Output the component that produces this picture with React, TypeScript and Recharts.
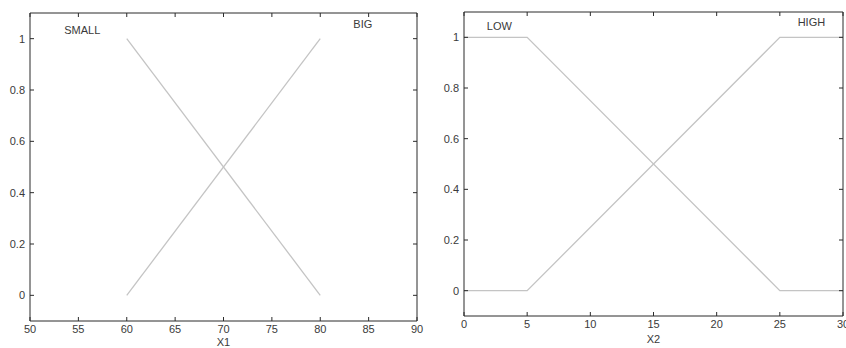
import React from 'react';
import { LineChart, Line, XAxis, YAxis, ReferenceDot } from 'recharts';

// ---- tick labels ----
const x1Ticks = [50, 55, 60, 65, 70, 75, 80, 85, 90];
const x2Ticks = [0, 5, 10, 15, 20, 25, 30];
const yTicks = [0, 0.2, 0.4, 0.6, 0.8, 1];

// ---- left panel series (X1) ----
const smallX = [60, 80];
const smallY = [1, 0];
const bigX = [60, 80];
const bigY = [0, 1];

// ---- right panel series (X2) ----
const lowX = [0, 5, 25, 30];
const lowY = [1, 1, 0, 0];
const highX = [0, 5, 25, 30];
const highY = [0, 0, 1, 1];

// ---- annotation texts (data coordinates) ----
const leftNames = ['SMALL', 'BIG'];
const leftNameX = [55.4, 84.4];
const leftNameY = [1.035, 1.055];
const rightNames = ['LOW', 'HIGH'];
const rightNameX = [2.8, 27.5];
const rightNameY = [1.045, 1.06];

const zip = (xs: number[], ys: number[]) => xs.map((x, i) => ({ x, y: ys[i] }));

const FONT = '"Liberation Sans", Arial, sans-serif';
const AX = '#2b2b2b';
const TXT = '#3a3a3a';
const LINE = '#c4c4c4';

const BottomTick = (p: any) => (
  <g>
    <line x1={p.x} x2={p.x} y1={p.y} y2={p.y - 4} stroke={AX} />
    <text x={p.x} y={p.y + 12} textAnchor="middle" fill={TXT} fontSize={11} fontFamily={FONT}>
      {p.payload.value}
    </text>
  </g>
);
const TopTick = (p: any) => (
  <line x1={p.x} x2={p.x} y1={p.y} y2={p.y + 4} stroke={AX} />
);
const LeftTick = (p: any) => (
  <g>
    <line x1={p.x} x2={p.x + 4} y1={p.y} y2={p.y} stroke={AX} />
    <text x={p.x - 5} y={p.y} dy="0.35em" textAnchor="end" fill={TXT} fontSize={11} fontFamily={FONT}>
      {String(p.payload.value)}
    </text>
  </g>
);
const RightTick = (p: any) => (
  <line x1={p.x} x2={p.x - 4} y1={p.y} y2={p.y} stroke={AX} />
);

type PanelProps = {
  width: number;
  height: number;
  margin: any;
  yAxisWidth: number;
  xAxisHeight: number;
  domain: [number, number];
  xTicks: number[];
  xLabel: string;
  labelOffset: number;
  series: { name: string; data: { x: number; y: number }[] }[];
  names: string[];
  nameX: number[];
  nameY: number[];
};

const Panel = (props: PanelProps) => (
  <LineChart width={props.width} height={props.height} margin={props.margin}>
    <XAxis
      xAxisId={0}
      type="number"
      dataKey="x"
      domain={props.domain}
      ticks={props.xTicks}
      interval={0}
      allowDataOverflow
      height={props.xAxisHeight}
      tickSize={0}
      tickMargin={0}
      tickLine={false}
      axisLine={{ stroke: AX }}
      tick={<BottomTick />}
      label={{ value: props.xLabel, position: 'insideBottom', offset: props.labelOffset, fill: TXT, fontSize: 11, fontFamily: FONT }}
    />
    <XAxis
      xAxisId="top"
      orientation="top"
      type="number"
      dataKey="x"
      domain={props.domain}
      ticks={props.xTicks}
      interval={0}
      allowDataOverflow
      height={1}
      tickSize={0}
      tickMargin={0}
      tickLine={false}
      axisLine={{ stroke: AX }}
      tick={<TopTick />}
    />
    <YAxis
      yAxisId={0}
      type="number"
      domain={[-0.1, 1.1]}
      ticks={yTicks}
      interval={0}
      allowDataOverflow
      width={props.yAxisWidth}
      tickSize={0}
      tickMargin={0}
      tickLine={false}
      axisLine={{ stroke: AX }}
      tick={<LeftTick />}
    />
    <YAxis
      yAxisId="right"
      orientation="right"
      type="number"
      domain={[-0.1, 1.1]}
      ticks={yTicks}
      interval={0}
      allowDataOverflow
      width={1}
      tickSize={0}
      tickMargin={0}
      tickLine={false}
      axisLine={{ stroke: AX }}
      tick={<RightTick />}
    />
    {props.series.map((s) => (
      <Line
        key={s.name}
        xAxisId={0}
        yAxisId={0}
        data={s.data}
        dataKey="y"
        type="linear"
        stroke={LINE}
        strokeWidth={1.3}
        dot={false}
        activeDot={false}
        isAnimationActive={false}
      />
    ))}
    {/* invisible copy that binds the top and right frame axes */}
    <Line
      xAxisId="top"
      yAxisId="right"
      data={props.series[0].data}
      dataKey="y"
      type="linear"
      stroke="none"
      strokeOpacity={0}
      dot={false}
      activeDot={false}
      legendType="none"
      isAnimationActive={false}
    />
    {props.names.map((n, i) => (
      <ReferenceDot
        key={n}
        xAxisId={0}
        yAxisId={0}
        x={props.nameX[i]}
        y={props.nameY[i]}
        r={0}
        fill="none"
        stroke="none"
        label={{ value: n, position: 'center', fill: TXT, fontSize: 11, fontFamily: FONT }}
      />
    ))}
  </LineChart>
);

export default function App() {
  return (
    <div style={{ position: 'absolute', left: 0, top: 0, width: 846, height: 348, background: '#fff', display: 'flex', overflow: 'hidden' }}>
      <Panel
        width={430}
        height={348}
        margin={{ top: 12, right: 12, bottom: 0, left: 0 }}
        yAxisWidth={30}
        xAxisHeight={27}
        domain={[50, 90]}
        xTicks={x1Ticks}
        xLabel="X1"
        labelOffset={2}
        series={[
          { name: 'SMALL', data: zip(smallX, smallY) },
          { name: 'BIG', data: zip(bigX, bigY) },
        ]}
        names={leftNames}
        nameX={leftNameX}
        nameY={leftNameY}
      />
      <Panel
        width={416}
        height={348}
        margin={{ top: 11, right: 2, bottom: 0, left: 0 }}
        yAxisWidth={34}
        xAxisHeight={32}
        domain={[0, 30]}
        xTicks={x2Ticks}
        xLabel="X2"
        labelOffset={5}
        series={[
          { name: 'LOW', data: zip(lowX, lowY) },
          { name: 'HIGH', data: zip(highX, highY) },
        ]}
        names={rightNames}
        nameX={rightNameX}
        nameY={rightNameY}
      />
    </div>
  );
}
